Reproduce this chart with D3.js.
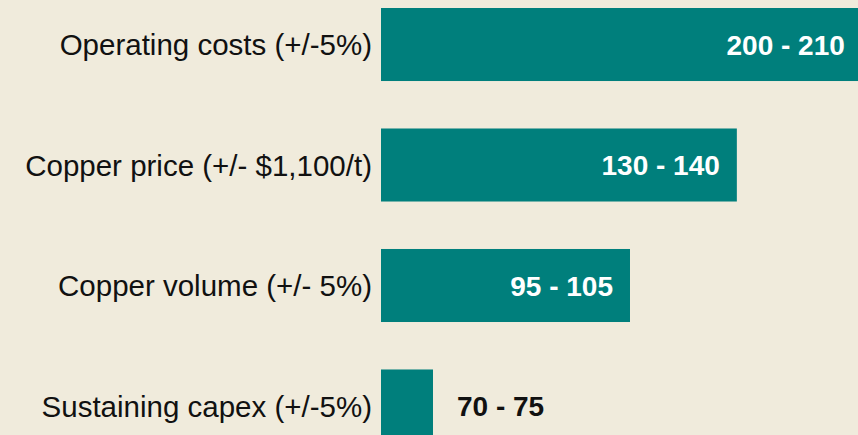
<!DOCTYPE html>
<html>
<head>
<meta charset="utf-8">
<script src="https://cdn.jsdelivr.net/npm/d3@7"></script>
<style>
  html, body { margin: 0; padding: 0; background: #f0ebdc; }
  svg { display: block; }
</style>
</head>
<body>
<div id="chart"></div>
<script>
// sensitivity items
const categories = [
    "Operating costs (+/-5%)",
    "Copper price (+/- $1,100/t)",
    "Copper volume (+/- 5%)",
    "Sustaining capex (+/-5%)"
];
// relative bar length (share of the plot width)
const barLengths = [100.8, 74.6, 52.2, 10.9];
// range labels
const rangeLabels = ["200 - 210", "130 - 140", "95 - 105", "70 - 75"];

const width = 858, height = 435;

let svg = d3.select("#chart")
    .append("svg")
    .attr("width", width)
    .attr("height", height);

svg.append("rect")
    .attr("width", width)
    .attr("height", height)
    .attr("fill", "#f0ebdc");

// scales
let x = d3.scaleLinear()
    .domain([0, 100])
    .range([381, 858]);

let y = d3.scaleBand()
    .domain(categories)
    .range([8, 442.5])
    .paddingInner(0.394)
    .paddingOuter(0);

// bars
svg.append("g").selectAll("rect")
    .data(categories)
    .enter()
    .append("rect")
    .attr("x", x(0))
    .attr("y", d => y(d))
    .attr("width", (d, i) => x(barLengths[i]) - x(0))
    .attr("height", y.bandwidth())
    .attr("fill", "#007f7c");

// category labels
svg.append("g").selectAll("text")
    .data(categories)
    .enter()
    .append("text")
    .attr("x", 372)
    .attr("y", d => y(d) + y.bandwidth() / 2)
    .attr("dy", "0.36em")
    .attr("text-anchor", "end")
    .style("font-family", "'Liberation Sans', Arial, sans-serif")
    .style("font-size", "29.5px")
    .attr("fill", "#111")
    .text(d => d);

// value labels: inside for long bars, outside for the short one
svg.append("g").selectAll("text")
    .data(categories)
    .enter()
    .append("text")
    .attr("x", (d, i) => barLengths[i] > 20 ? x(barLengths[i]) - 17 : x(barLengths[i]) + 24)
    .attr("y", d => y(d) + y.bandwidth() / 2)
    .attr("dy", "0.36em")
    .attr("text-anchor", (d, i) => barLengths[i] > 20 ? "end" : "start")
    .style("font-family", "'Liberation Sans', Arial, sans-serif")
    .style("font-size", "28px")
    .style("font-weight", "bold")
    .attr("fill", (d, i) => barLengths[i] > 20 ? "#ffffff" : "#111")
    .text((d, i) => rangeLabels[i]);
</script>
</body>
</html>
